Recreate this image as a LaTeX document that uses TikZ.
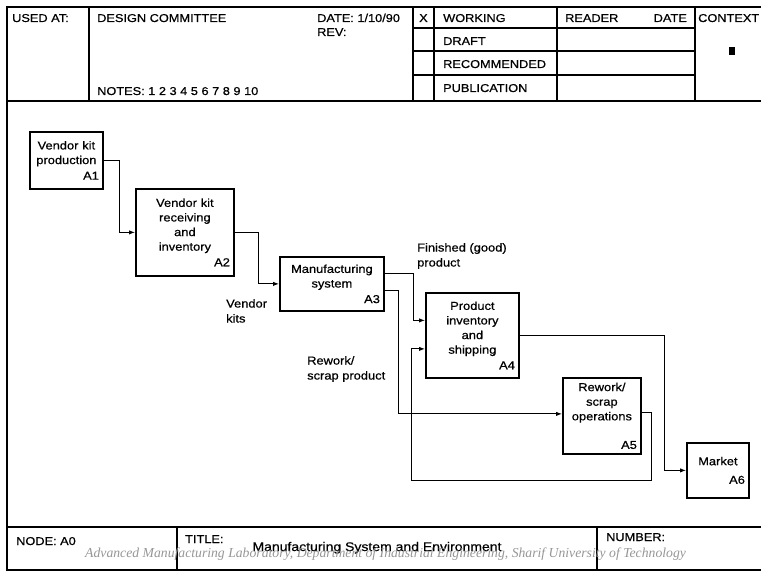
\documentclass[tikz,border=0pt]{standalone}
\usepackage{fontspec}
\setmainfont{Liberation Sans}[FakeStretch=1.12,FakeBold=0.6]
\newfontfamily\wmfont{Liberation Serif}
\usetikzlibrary{positioning,arrows.meta}
\definecolor{wmGray}{RGB}{150,150,150}

\begin{document}
\begin{tikzpicture}[x=1pt,y=-1pt,
   box/.style={draw,line width=1.8pt,align=center,anchor=north west,inner xsep=4pt,inner ysep=3pt,
     font=\fontsize{11.5}{14.6}\selectfont},
   hd/.style={anchor=base west,inner sep=0pt,font=\fontsize{11.4}{13}\selectfont},
   lbl/.style={anchor=north west,inner sep=0pt,align=left,font=\fontsize{11.5}{15}\selectfont},
   fr/.style={line width=1.6pt},
   e/.style={line width=0.9pt,-{Latex[length=6pt,width=4.4pt]}}]
\useasboundingbox (0,0) rectangle (761,572);
%% ---- form frame ----
\draw[fr] (761,7) -- (7,7) -- (7,570) -- (761,570);
\draw[fr] (7,101) -- (761,101);
\draw[fr] (7,527) -- (761,527);
\draw[fr] (89,7) -- (89,101);
\draw[fr] (413,7) -- (413,101);
\draw[fr] (434,7) -- (434,101);
\draw[fr] (557,7) -- (557,101);
\draw[fr] (695,7) -- (695,101);
\draw[fr] (413,28) -- (695,28);
\draw[fr] (413,51) -- (695,51);
\draw[fr] (413,75) -- (695,75);
\draw[fr] (177,527) -- (177,570);
\draw[fr] (597,527) -- (597,570);
%% ---- header texts ----
\node[hd] (usedAt) at (12,22) {USED AT:};
\node[hd] (author) at (97,22) {DESIGN COMMITTEE};
\node[hd] (date) at (317,22) {DATE: 1/10/90};
\node[hd] (rev) at (317,36) {REV:};
\node[hd] (notes) at (97,95) {NOTES: 1 2 3 4 5 6 7 8 9 10};
\node[hd] (mark) at (419,22) {X};
\node[hd] (working) at (443,22) {WORKING};
\node[hd] (draft) at (443,45) {DRAFT};
\node[hd] (recom) at (443,68) {RECOMMENDED};
\node[hd] (publ) at (443,92) {PUBLICATION};
\node[hd] (reader) at (565,22) {READER};
\node[hd,anchor=base east] (rdate) at (687,22) {DATE};
\node[hd] (context) at (698,22) {CONTEXT};
\node[fill,minimum width=6pt,minimum height=8pt,inner sep=0pt] (ctx) at (731.5,51) {};
%% ---- activity boxes ----
\node[box,minimum height=57pt,text width=65pt] (a1) at (29,131)
  {Vendor kit\\production\\[1pt]\hspace*{\fill}A1};
\node[box,minimum height=87pt,text width=90pt] (a2) at (135,188)
  {Vendor kit\\receiving\\and\\inventory\\[1pt]\hspace*{\fill}A2};
\node[box,minimum height=54pt,text width=96pt] (a3) at (279,256)
  {Manufacturing\\system\\[1pt]\hspace*{\fill}A3};
\node[box,minimum height=85pt,text width=85pt] (a4) at (425,292)
  {Product\\inventory\\and\\shipping\\[1pt]\hspace*{\fill}A4};
\node[box,minimum height=76pt,text width=70pt] (a5) at (562,377)
  {Rework/\\scrap\\operations\\[14pt]\hspace*{\fill}A5};
\node[box,minimum height=55pt,text width=54pt] (a6) at (686,442)
  {Market\\[4pt]\hspace*{\fill}A6};
%% ---- flows ----
\draw[e] (a1.east) -- ++(16,0) |- (a2.west);
\draw[e] (a2.east) -- ++(24,0) |- (a3.west);
\draw[e] ([yshift=10pt]a3.east) -- ++(29,0) |- ([yshift=15pt]a4.west);
\draw[e] ([yshift=-7pt]a3.east) -- ++(14,0) |- ([yshift=2pt]a5.west);
\draw[e] (a4.east) -- ++(145,0) |- (a6.west);
\coordinate (back) at (411,480);
\draw[e] ([yshift=3pt]a5.east) -- ++(10,0) |- (back) |- ([yshift=-13.5pt]a4.west);
%% ---- flow labels ----
\node[lbl] (kits) at (226,299) {Vendor\\kits};
\node[lbl] (good) at (417,243) {Finished (good)\\product};
\node[lbl] (scrap) at (307,356) {Rework/\\scrap product};
%% ---- footer ----
\node[hd] (nodeNo) at (16,545) {NODE: A0};
\node[hd] (titleLbl) at (185,543) {TITLE:};
\node[anchor=base,inner sep=0pt,font=\fontsize{12.5}{14}\selectfont] (title) at (377,551)
  {Manufacturing System and Environment};
\node[hd] (number) at (606,541) {NUMBER:};
\node[anchor=base west,inner sep=0pt,text=wmGray,font=\wmfont\itshape\fontsize{13.7}{16}\selectfont] (wm) at (85,557)
  {Advanced Manufacturing Laboratory, Department of Industrial Engineering, Sharif University of Technology};
\end{tikzpicture}
\end{document}
